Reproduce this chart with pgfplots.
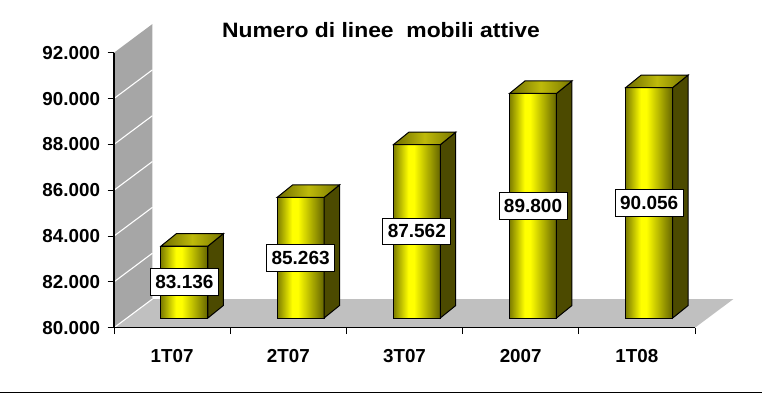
\documentclass[border=0pt]{standalone}
\usepackage{pgfplots}
\pgfplotsset{compat=1.18}
\usepackage{pgfplotstable}
\usepackage{fontspec}
\setmainfont{Liberation Sans}
\newfontfamily\titlefont{Liberation Sans}[FakeStretch=1.1]
\newcommand\tlfont{\bfseries\fontsize{18.8bp}{20bp}\selectfont}
\definecolor{wallgray}{RGB}{166,166,166}
\definecolor{floorgray}{RGB}{192,192,192}
\definecolor{sideol}{RGB}{76,74,0}
\definecolor{barL}{RGB}{125,125,0}
\definecolor{barR}{RGB}{100,100,0}
\definecolor{topL}{RGB}{110,108,0}
\definecolor{topM}{RGB}{190,186,10}
\definecolor{topR}{RGB}{120,118,0}
\pgfdeclarehorizontalshading{barshade}{100bp}{color(0bp)=(barL); color(25bp)=(barL); color(41bp)=(yellow); color(47bp)=(yellow); color(75bp)=(barR); color(100bp)=(barR)}
\pgfdeclarehorizontalshading{topshade}{100bp}{color(0bp)=(topL); color(25bp)=(topL); color(50bp)=(topM); color(75bp)=(topR); color(100bp)=(topR)}

\pgfplotstableread{
x lab v
1 1T07 83.136
2 2T07 85.263
3 3T07 87.562
4 2007 89.800
5 1T08 90.056
}\datatable

\begin{document}
\begin{tikzpicture}
\useasboundingbox (0,0) rectangle (762bp,394bp);
\begin{axis}[
  at={(114bp,66.3bp)}, anchor=south west,
  scale only axis, width=581bp, height=275bp,
  xmin=0.5, xmax=5.5, ymin=80, ymax=92,
  clip=false, axis on top,
  axis x line*=bottom, axis y line*=left,
  axis line style={line width=1.2pt},
  ytick={80,82,...,92},
  yticklabel={\tlfont\pgfmathprintnumber[fixed,fixed zerofill,precision=3,assume math mode=true]{\tick}},
  xtick={0.5,1.5,...,5.5},
  xticklabels={{\tlfont 1T07},{\tlfont 2T07},{\tlfont 3T07},{\tlfont 2007},{\tlfont 1T08}},
  x tick label as interval,
  tick align=outside, major tick length=6.5bp,
  tick style={black, line width=1pt},
  tick label style={font=\tlfont},
  yticklabel style={xshift=-4bp},
  xticklabel style={yshift=-12bp},
]
% back wall and floor
\addplot[fill=wallgray, draw=none] coordinates {(0.5,80) (0.831,81.252) (0.831,93.252) (0.5,92)} -- cycle;
\addplot[fill=floorgray, draw=none] coordinates {(0.5,80) (5.5,80) (5.831,81.252) (0.831,81.252)} -- cycle;
% wall gridlines
\addplot[white, line width=1.1pt] coordinates {(0.5,80) (0.831,81.252)};
\addplot[white, line width=1.1pt] coordinates {(0.5,82) (0.831,83.252)};
\addplot[white, line width=1.1pt] coordinates {(0.5,84) (0.831,85.252)};
\addplot[white, line width=1.1pt] coordinates {(0.5,86) (0.831,87.252)};
\addplot[white, line width=1.1pt] coordinates {(0.5,88) (0.831,89.252)};
\addplot[white, line width=1.1pt] coordinates {(0.5,90) (0.831,91.252)};
% bars
\pgfplotsinvokeforeach{0,...,4}{
  \pgfplotstablegetelem{#1}{v}\of\datatable
  \pgfmathsetmacro\xL{#1+1+0.106-0.202}
  \pgfmathsetmacro\xR{#1+1+0.106+0.202}
  \pgfmathsetmacro\xD{\xR+0.133}
  \pgfmathsetmacro\xLD{\xL+0.133}
  \pgfmathsetmacro\yT{\pgfplotsretval+0.423}
  \pgfmathsetmacro\yTD{\yT+0.545}
  \pgfmathsetmacro\yBD{80.423+0.545}
  \edef\temp{%
    \noexpand\addplot[shade, shading=barshade, draw=black, line width=1pt] coordinates {(\xL,80.423) (\xR,80.423) (\xR,\yT) (\xL,\yT)} -- cycle;
    \noexpand\addplot[fill=sideol, draw=black, line width=1pt] coordinates {(\xR,80.423) (\xD,\yBD) (\xD,\yTD) (\xR,\yT)} -- cycle;
    \noexpand\addplot[shade, shading=topshade, draw=black, line width=1pt] coordinates {(\xL,\yT) (\xR,\yT) (\xD,\yTD) (\xLD,\yTD)} -- cycle;
  }\temp
}
% value labels
\addplot[draw=none, mark=none, point meta=explicit,
  nodes near coords={\pgfmathprintnumber[fixed,fixed zerofill,precision=3,assume math mode=true]{\pgfplotspointmeta}},
  every node near coord/.append style={anchor=center, fill=white, draw=black, line width=0.8pt, text=black,
    font=\bfseries\fontsize{19bp}{20bp}\selectfont, inner xsep=5bp, inner ysep=6.5bp}]
  table[x expr=\thisrow{x}+0.106, y expr=(80.846+\thisrow{v})/2, meta=v]{\datatable};
\end{axis}
\node[font=\titlefont\bfseries\fontsize{20.8bp}{22bp}\selectfont, anchor=base] at (381bp,356.7bp) {Numero di linee~ mobili attive};
\draw[line width=1.3pt] (0,1.3bp) -- (762bp,1.3bp);
\end{tikzpicture}
\end{document}
